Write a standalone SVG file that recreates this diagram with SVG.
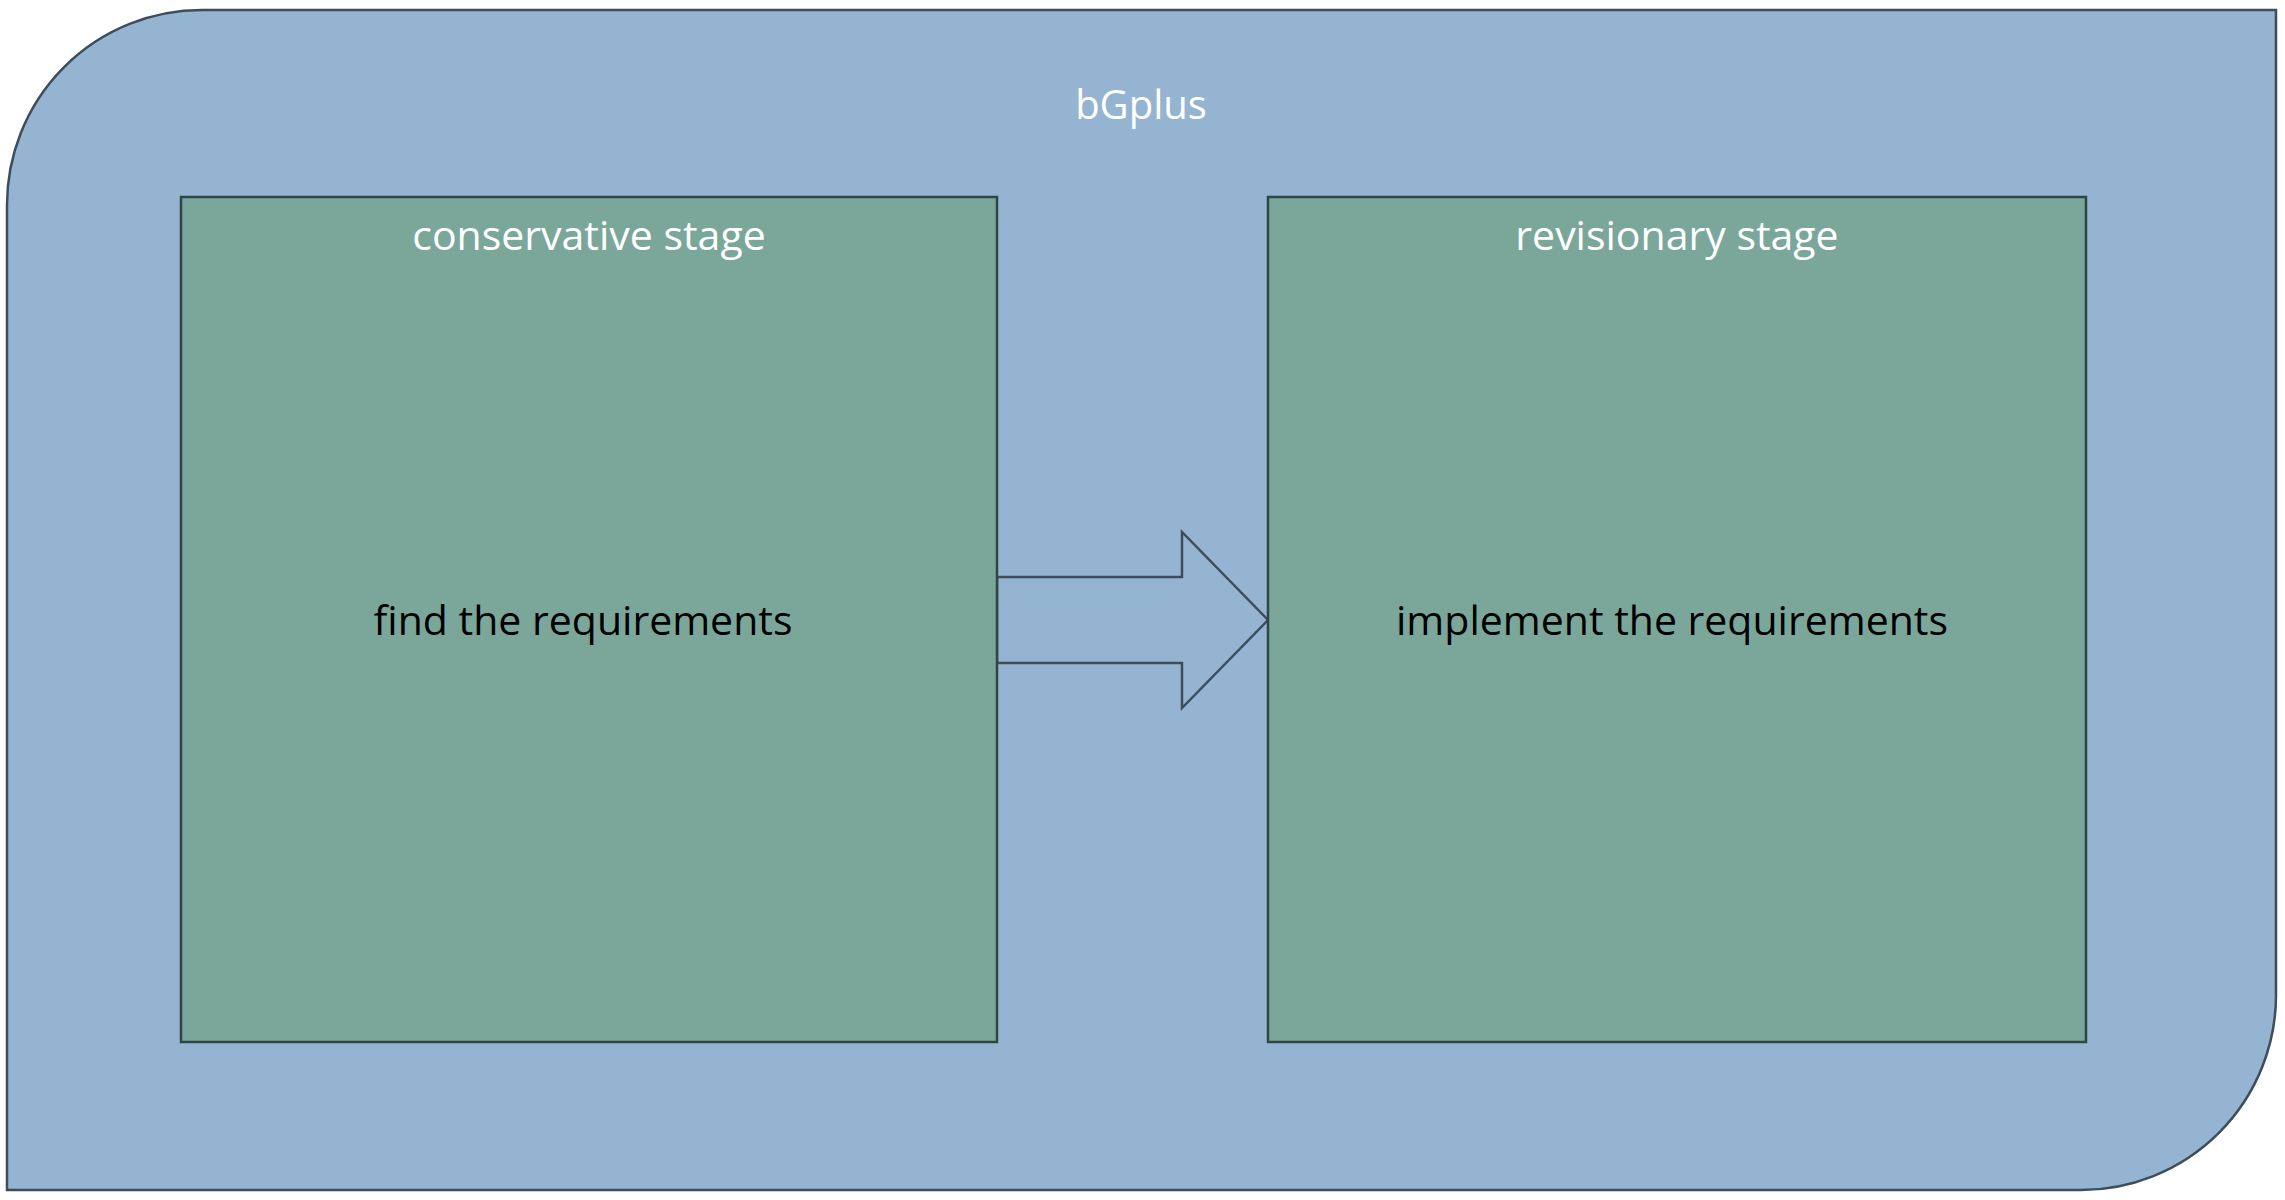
<svg xmlns="http://www.w3.org/2000/svg" width="2285" height="1200" viewBox="0 0 2285 1200">
<style>
.container{fill:#94B4D1;stroke:#3D4D5B;stroke-width:2.5}
.stage{fill:#7BA79B;stroke:#2E4744;stroke-width:2.5}
.arrow{fill:#94B4D1;stroke:#3D4D5B;stroke-width:2.5;stroke-linejoin:miter}
.title{font-family:"Open Sans","Noto Sans","Liberation Sans",sans-serif;font-size:41px;fill:#FFFFFF;text-anchor:middle}
.body{font-family:"Open Sans","Noto Sans","Liberation Sans",sans-serif;font-size:41px;fill:#000000;text-anchor:middle}
</style>
<rect width="2285" height="1200" fill="#FFFFFF"/>
<g id="bGplus">
<path class="container" d="M7,205 A195,195 0 0 1 202,10 L2276,10 L2276,995 A195,195 0 0 1 2081,1190 L7,1190 Z"/>
<text class="title" x="1141" y="119" style="font-size:40px">bGplus</text>
</g>
<g id="connectors">
<path class="arrow" d="M997,577 L1182,577 L1182,532 L1268,620 L1182,708 L1182,663 L997,663 Z"/>
</g>
<g id="conservative-stage">
<rect class="stage" x="181" y="197" width="816" height="845"/>
<text class="title" x="589" y="250">conservative stage</text>
<text class="body" x="583" y="635">find the requirements</text>
</g>
<g id="revisionary-stage">
<rect class="stage" x="1268" y="197" width="818" height="845"/>
<text class="title" x="1677" y="250">revisionary stage</text>
<text class="body" x="1672" y="635">implement the requirements</text>
</g>
</svg>
